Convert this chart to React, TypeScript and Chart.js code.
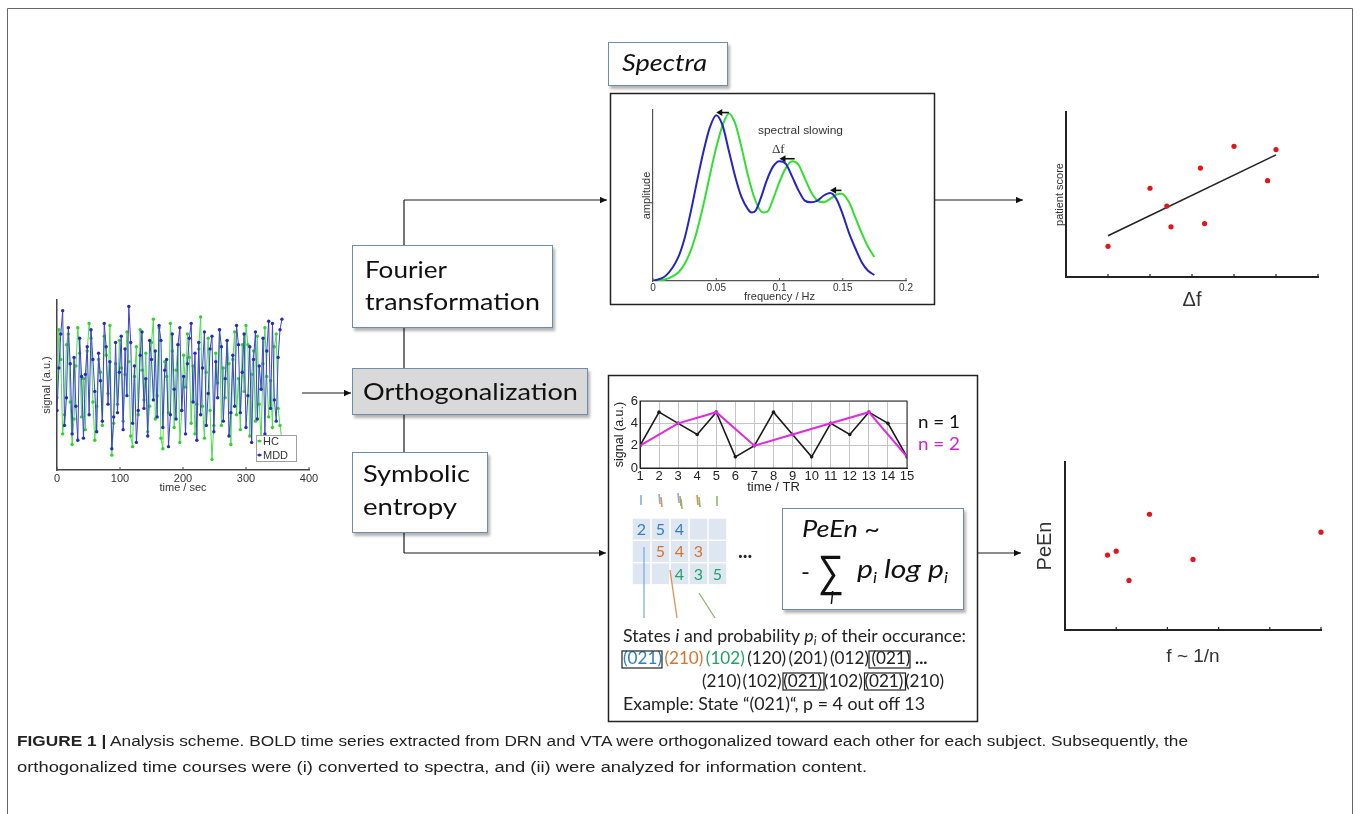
import React, { useEffect, useRef } from "react";
import { Chart, registerables } from "chart.js";

Chart.register(...registerables);

const SANS = "'Liberation Sans', Arial, Helvetica, sans-serif";
const CAL = "Lato, 'Open Sans', 'Noto Sans', sans-serif";
const NARROW = "'Liberation Sans Narrow', 'Liberation Sans', Arial, sans-serif";
const SERIF = "'Liberation Serif', 'DejaVu Serif', serif";

Chart.defaults.font.family = SANS;
Chart.defaults.color = "#333";

// ---------- time series (HC vs MDD) ----------
const sampleStepSec = 3;
const hcSignal = [
  -0.6, 2.6, 1.2, -2.3, -1.4, 1.9, 2.4, -0.8, -2.8, -1.6,
  0.9, 2.7, 1.5, -1.5, 0.3, -2.1, 1.6, 2.9, 2.2, -0.8,
  -2.6, -1.0, 1.2, 0.6, -1.9, 2.3, 1.4, -0.4, 2.8, -3.3,
  -1.8, 1.0, -0.9, 2.1, 0.8, -1.7, 0.5, 2.5, 1.1, -2.4,
  -2.9, 0.4, 1.8, -1.4, 2.6, 0.7, -0.7, 1.5, -2.2, -1.0,
  2.0, 3.1, -1.6, -0.5, 2.7, -2.5, -3.0, 1.1, 0.4, -1.3,
  2.9, 1.6, -2.0, 0.7, 1.9, -2.7, -1.2, 1.4, -0.1, 2.4,
  1.3, -1.8, 0.9, -2.3, -0.9, 1.7, 3.2, -1.0, -2.5, 0.6,
  2.2, -1.2, -3.5, -1.9, 1.5, 0.1, 2.6, -1.9, 0.8, -0.6,
  2.1, 1.0, -2.8, 1.2, 2.5, -1.4, 0.3, -2.1, 1.9, -0.3,
  2.8, 1.9, -2.4, 0.5, 1.6, -1.7, 2.3, -0.9, -2.6, 1.0,
  2.7, 0.4, -1.5, 0.2, -2.0, 1.8, 2.4, -1.1, -1.9, -2.6,
];
const mddSignal = [
  -1.2, 0.8, 2.4, 3.5, -1.9, -0.6, 2.7, 1.0, -2.3, 1.3,
  -1.0, -2.6, 2.2, 0.4, -2.5, 0.5, 1.8, -1.4, 2.6, 1.2,
  -0.3, -2.2, 1.5, 0.2, -1.7, 2.9, 1.8, -0.9, 1.1, -3.0,
  -1.5, 2.0, -1.3, 0.6, 2.3, -2.1, 1.7, -0.5, 3.7, 2.0,
  -1.8, 0.9, -2.7, -1.2, 1.4, 2.5, -1.1, 0.3, -2.4, 2.1,
  1.2, -0.7, 1.6, -1.5, 2.8, 2.1, -2.0, 0.7, 1.2, -2.9,
  -1.4, 2.4, -0.2, -1.6, 1.9, 2.7, -1.2, 0.4, -2.3, 1.0,
  2.2, 2.9, -0.8, 1.5, -2.6, 2.0, -1.4, 0.8, 2.5, -1.9,
  -0.4, 1.7, 2.3, -2.2, 1.1, -0.6, 2.6, 1.8, -1.7, 0.3,
  2.1, -2.4, -1.3, 1.4, -1.0, 2.8, 1.9, -1.3, 0.6, 2.4,
  -2.0, -0.5, 1.8, -2.7, 1.2, 2.5, -1.6, 0.9, -0.2, 2.2,
  -2.3, 1.6, 3.0, -1.1, 2.9, -0.7, -1.7, 1.3, 2.6, 3.1,
];
const timeTickValues = [0, 100, 200, 300, 400];
const timeTickLabels = ["0", "100", "200", "300", "400"];

// ---------- spectra ----------
const blueFreq = [0, 0.01, 0.02, 0.025, 0.03, 0.035, 0.04, 0.045, 0.05, 0.055, 0.06, 0.065, 0.07, 0.075, 0.078, 0.081, 0.085, 0.09, 0.095, 0.1, 0.105, 0.11, 0.115, 0.12, 0.125, 0.13, 0.135, 0.14, 0.145, 0.15, 0.155, 0.16, 0.165, 0.17, 0.175];
const blueAmp = [0, 0.03, 0.14, 0.25, 0.41, 0.59, 0.76, 0.9, 0.97, 0.91, 0.76, 0.61, 0.49, 0.42, 0.4, 0.41, 0.48, 0.59, 0.67, 0.7, 0.685, 0.61, 0.53, 0.47, 0.46, 0.47, 0.5, 0.515, 0.48, 0.39, 0.28, 0.19, 0.11, 0.06, 0.035];
const greenFreq = [0, 0.01, 0.02, 0.025, 0.03, 0.035, 0.04, 0.045, 0.05, 0.055, 0.06, 0.065, 0.07, 0.075, 0.08, 0.085, 0.088, 0.091, 0.095, 0.1, 0.105, 0.11, 0.115, 0.12, 0.125, 0.13, 0.135, 0.14, 0.145, 0.149, 0.155, 0.16, 0.165, 0.17, 0.175];
const greenAmp = [0, 0.01, 0.05, 0.1, 0.18, 0.3, 0.45, 0.62, 0.78, 0.91, 0.98, 0.92, 0.78, 0.62, 0.49, 0.41, 0.4, 0.41, 0.48, 0.58, 0.66, 0.7, 0.68, 0.6, 0.52, 0.47, 0.46, 0.48, 0.505, 0.51, 0.46, 0.37, 0.28, 0.2, 0.14];
const freqTickValues = [0, 0.05, 0.1, 0.15, 0.2];
const freqTickLabels = ["0", "0.05", "0.1", "0.15", "0.2"];
const slowingFrom = [0.06, 0.112, 0.149];
const slowingTo = [0.05, 0.1, 0.14];
const slowingAmp = [0.985, 0.715, 0.53];

// ---------- patient score vs delta f ----------
const deltaF = [1.0, 2.0, 2.4, 2.5, 3.2, 3.3, 4.0, 4.8, 5.0];
const patientScore = [1.86, 5.38, 4.3, 3.04, 6.6, 3.24, 7.92, 5.84, 7.72];
const fitDeltaF = [1.0, 5.0];
const fitScore = [2.5, 7.4];
const scoreTicks = [1, 2, 3, 4, 5, 6];

// ---------- n = 1 / n = 2 example ----------
const trTimes = [1, 2, 3, 4, 5, 6, 7, 8, 9, 10, 11, 12, 13, 14, 15];
const signalN1 = [2, 5, 4, 3, 5, 1, 2, 5, 3, 1, 4, 3, 5, 4, 1];
const trTimesN2 = [1, 3, 5, 7, 9, 11, 13, 15];
const signalN2 = [2, 4, 5, 2, 3, 4, 5, 1];

// ---------- PeEn vs f ----------
const peFreq = [0.83, 1.0, 1.25, 1.65, 2.5, 5.0];
const peEn = [4.46, 4.69, 2.95, 6.89, 4.2, 5.82];
const peTicks = [1, 2, 3, 4, 5];

// ---------- symbolic states ----------
const matrixRows: (number | null)[][] = [
  [2, 5, 4, null, null],
  [null, 5, 4, 3, null],
  [null, null, 4, 3, 5],
];
const stateLine1 = ["(021)", "(210)", "(102)", "(120)", "(201)", "(012)", "(021)"];
const stateLine2 = ["(210)", "(102)", "(021)", "(102)", "(021)", "(210)"];

// ---------- helpers ----------
const fixW = (w: number) => (s: any) => {
  s.width = w;
  s.paddingTop = 0; s.paddingBottom = 0; s.paddingLeft = 0; s.paddingRight = 0;
};
const fixH = (h: number) => (s: any) => {
  s.height = h;
  s.paddingTop = 0; s.paddingBottom = 0; s.paddingLeft = 0; s.paddingRight = 0;
};
const setTicks = (vals: number[]) => (s: any) => {
  s.ticks = vals.map((v) => ({ value: v }));
};

function base(pad: any) {
  return {
    responsive: false,
    maintainAspectRatio: false,
    animation: false,
    devicePixelRatio: 1,
    events: [],
    layout: { padding: pad },
    plugins: { legend: { display: false }, tooltip: { enabled: false }, title: { display: false } },
  };
}

const innerTicks = (vals: number[], len: number, color: string, width: number) => ({
  id: "innerTicks",
  afterDraw(chart: any) {
    const { ctx, chartArea, scales } = chart;
    ctx.save();
    ctx.strokeStyle = color;
    ctx.lineWidth = width;
    vals.forEach((v) => {
      const x = scales.x.getPixelForValue(v);
      ctx.beginPath();
      ctx.moveTo(x, chartArea.bottom);
      ctx.lineTo(x, chartArea.bottom - len);
      ctx.stroke();
    });
    ctx.restore();
  },
});

const frame = (color: string, width: number) => ({
  id: "frame",
  afterDraw(chart: any) {
    const { ctx, chartArea: a } = chart;
    ctx.save();
    ctx.strokeStyle = color;
    ctx.lineWidth = width;
    ctx.strokeRect(a.left, a.top, a.right - a.left, a.bottom - a.top);
    ctx.restore();
  },
});

const slowingArrows = {
  id: "slowingArrows",
  afterDatasetsDraw(chart: any) {
    const { ctx, scales } = chart;
    ctx.save();
    ctx.strokeStyle = "#111";
    ctx.fillStyle = "#111";
    ctx.lineWidth = 1.6;
    slowingFrom.forEach((f, i) => {
      const x0 = scales.x.getPixelForValue(f);
      const x1 = scales.x.getPixelForValue(slowingTo[i]);
      const yy = scales.y.getPixelForValue(slowingAmp[i]);
      ctx.beginPath();
      ctx.moveTo(x0, yy);
      ctx.lineTo(x1 + 4, yy);
      ctx.stroke();
      ctx.beginPath();
      ctx.moveTo(x1, yy);
      ctx.lineTo(x1 + 6, yy - 3.5);
      ctx.lineTo(x1 + 6, yy + 3.5);
      ctx.closePath();
      ctx.fill();
    });
    ctx.restore();
  },
};

function ChartCanvas({ left, top, width, height, make }: { left: number; top: number; width: number; height: number; make: () => any }) {
  const ref = useRef<HTMLCanvasElement | null>(null);
  useEffect(() => {
    if (!ref.current) return;
    const chart = new Chart(ref.current, make());
    return () => chart.destroy();
  }, []);
  return (
    <canvas
      ref={ref}
      width={width}
      height={height}
      style={{ position: "absolute", left, top, width, height }}
    />
  );
}

// ---------- chart configs ----------
const timeSeriesConfig = () => ({
  type: "scatter",
  data: {
    datasets: [
      {
        label: "MDD",
        data: mddSignal.map((y, i) => ({ x: i * sampleStepSec, y })),
        showLine: true,
        borderColor: "#4040d4",
        backgroundColor: "#2a2ab8",
        borderWidth: 1,
        pointRadius: 1.7,
        pointBorderWidth: 0,
        order: 0,
      },
      {
        label: "HC",
        data: hcSignal.map((y, i) => ({ x: i * sampleStepSec, y })),
        showLine: true,
        borderColor: "#48e048",
        backgroundColor: "#30d030",
        borderWidth: 1,
        pointRadius: 1.7,
        pointBorderWidth: 0,
        order: 1,
      },
    ],
  },
  options: {
    ...base({ left: 0, right: 11, top: 8, bottom: 0 }),
    scales: {
      x: {
        type: "linear", min: 0, max: 400,
        afterFit: fixH(32), afterBuildTicks: setTicks(timeTickValues),
        ticks: { callback: (_v: any, i: number) => timeTickLabels[i], font: { size: 11 }, color: "#333", padding: 2, maxRotation: 0, autoSkip: false },
        grid: { display: false, drawTicks: false },
        border: { display: true, color: "#444", width: 1.5 },
        title: { display: true, text: "time / sec", font: { size: 11 }, color: "#333", padding: { top: 0, bottom: 7.7 } },
      },
      y: {
        min: -4, max: 4,
        afterFit: fixW(37),
        ticks: { display: false },
        grid: { display: false, drawTicks: false },
        border: { display: true, color: "#444", width: 1.5 },
        title: { display: true, text: "signal (a.u.)", font: { size: 11 }, color: "#333", padding: { top: 20, bottom: 0 } },
      },
    },
  },
  plugins: [innerTicks(timeTickValues, 3, "#444", 1)],
});

const spectraConfig = () => ({
  type: "scatter",
  data: {
    datasets: [
      {
        label: "MDD",
        data: blueAmp.map((y, i) => ({ x: blueFreq[i], y })),
        showLine: true, borderColor: "#2424c4", borderWidth: 2, pointRadius: 0,
        cubicInterpolationMode: "monotone",
      },
      {
        label: "HC",
        data: greenAmp.map((y, i) => ({ x: greenFreq[i], y })),
        showLine: true, borderColor: "#2fe02f", borderWidth: 2, pointRadius: 0,
        cubicInterpolationMode: "monotone",
      },
    ],
  },
  options: {
    ...base({ left: 0, right: 26, top: 14, bottom: 0 }),
    scales: {
      x: {
        type: "linear", min: 0, max: 0.2,
        afterFit: fixH(24), afterBuildTicks: setTicks(freqTickValues),
        ticks: { callback: (_v: any, i: number) => freqTickLabels[i], font: { size: 10 }, color: "#333", padding: 1, maxRotation: 0, autoSkip: false },
        grid: { display: false, drawTicks: false },
        border: { display: true, color: "#555", width: 1.2 },
        title: { display: true, text: "frequency / Hz", font: { size: 11 }, color: "#333", padding: { top: 0, bottom: 1.7 } },
      },
      y: {
        min: 0, max: 1,
        afterFit: fixW(41),
        ticks: { display: false },
        grid: { display: false, drawTicks: false },
        border: { display: true, color: "#555", width: 1.2 },
        title: { display: true, text: "amplitude", font: { size: 11 }, color: "#333", padding: { top: 28, bottom: 0 } },
      },
    },
  },
  plugins: [innerTicks(freqTickValues, 3, "#555", 1), slowingArrows],
});

const scoreConfig = () => ({
  type: "scatter",
  data: {
    datasets: [
      {
        label: "points",
        data: patientScore.map((y, i) => ({ x: deltaF[i], y })),
        pointRadius: 2.6, backgroundColor: "#e3141c", borderWidth: 0, clip: false,
      },
      {
        label: "fit",
        data: fitScore.map((y, i) => ({ x: fitDeltaF[i], y })),
        showLine: true, borderColor: "#222", borderWidth: 1.6, pointRadius: 0,
      },
    ],
  },
  options: {
    ...base({ left: 0, right: 22, top: 8, bottom: 0 }),
    scales: {
      x: {
        type: "linear", min: 0, max: 6,
        afterFit: fixH(39),
        ticks: { display: false },
        grid: { display: false, drawTicks: false },
        border: { display: true, color: "#222", width: 2 },
        title: { display: true, text: "Δf", font: { size: 20 }, color: "#333", padding: { top: 0, bottom: 4 } },
      },
      y: {
        min: 0, max: 10,
        afterFit: fixW(26),
        ticks: { display: false },
        grid: { display: false, drawTicks: false },
        border: { display: true, color: "#222", width: 2 },
        title: { display: true, text: "patient score", font: { size: 11 }, color: "#333", padding: { top: 13.4, bottom: 0 } },
      },
    },
  },
  plugins: [innerTicks(scoreTicks, 3, "#222", 1.2)],
});

const peConfig = () => ({
  type: "scatter",
  data: {
    datasets: [
      {
        label: "PeEn",
        data: peEn.map((y, i) => ({ x: peFreq[i], y })),
        pointRadius: 2.6, backgroundColor: "#e3141c", borderWidth: 0, clip: false,
      },
    ],
  },
  options: {
    ...base({ left: 0, right: 19, top: 10, bottom: 0 }),
    scales: {
      x: {
        type: "linear", min: 0, max: 5,
        afterFit: fixH(42),
        ticks: { display: false },
        grid: { display: false, drawTicks: false },
        border: { display: true, color: "#222", width: 2 },
        title: { display: true, text: "f ~ 1/n", font: { size: 19 }, color: "#333", padding: { top: 0, bottom: 3.9 } },
      },
      y: {
        min: 0, max: 10,
        afterFit: fixW(37),
        ticks: { display: false },
        grid: { display: false, drawTicks: false },
        border: { display: true, color: "#222", width: 2 },
        title: { display: true, text: "PeEn", font: { size: 20 }, color: "#333", padding: { top: 5, bottom: 0 } },
      },
    },
  },
  plugins: [innerTicks(peTicks, 3, "#222", 1.2)],
});

const nConfig = () => ({
  type: "scatter",
  data: {
    datasets: [
      {
        label: "n = 2",
        data: signalN2.map((y, i) => ({ x: trTimesN2[i], y })),
        showLine: true, borderColor: "#e02ae0", backgroundColor: "#e02ae0", borderWidth: 2,
        pointRadius: 1.8, pointBorderWidth: 0, order: 0,
      },
      {
        label: "n = 1",
        data: signalN1.map((y, i) => ({ x: trTimes[i], y })),
        showLine: true, borderColor: "#1a1a1a", backgroundColor: "#1a1a1a", borderWidth: 1.6,
        pointRadius: 1.8, pointBorderWidth: 0, order: 1,
      },
    ],
  },
  options: {
    ...base({ left: 0, right: 8, top: 16, bottom: 0 }),
    scales: {
      x: {
        type: "linear", min: 1, max: 15,
        afterFit: fixH(27),
        ticks: { stepSize: 1, font: { size: 13 }, color: "#222", padding: 1, maxRotation: 0, autoSkip: false },
        grid: { display: true, color: "#c4c4c4", lineWidth: 1, drawTicks: false },
        border: { display: true, color: "#222", width: 1 },
        title: { display: true, text: "time / TR", font: { size: 13 }, color: "#222", padding: { top: 0, bottom: 0 } },
      },
      y: {
        min: 0, max: 6,
        afterFit: fixW(35),
        ticks: { stepSize: 1, font: { size: 13 }, color: "#222", padding: 2 },
        grid: { display: true, color: "#c4c4c4", lineWidth: 1, drawTicks: false },
        border: { display: true, color: "#222", width: 1 },
        title: { display: true, text: "signal (a.u.)", font: { size: 12.5 }, color: "#222", padding: { top: 7.5, bottom: 0 } },
      },
    },
  },
  plugins: [frame("#222", 1)],
});

// ---------- diagram overlay ----------
const matrixColors = ["#2f7fc4", "#d8732c", "#1ea463"];
const lineColors = ["#7eaee0", "#e58f4c", "#8fb56a"];

function Diagram() {
  const boxStroke = "#6f8cab";
  const cellW = 19;
  const cellH = 22.3;
  const mx = 632;
  const my = 518;
  return (
    <svg width={1360} height={814} style={{ position: "absolute", left: 0, top: 0 }}>
      <defs>
        <marker id="arr" viewBox="0 0 10 10" refX="10" refY="5" markerWidth="8" markerHeight="7" orient="auto" markerUnits="userSpaceOnUse">
          <path d="M0,0.5 L10,5 L0,9.5 z" fill="#111" />
        </marker>
        <filter id="sh" x="-10%" y="-10%" width="130%" height="150%">
          <feDropShadow dx="2" dy="3" stdDeviation="1.5" floodColor="#000" floodOpacity="0.3" />
        </filter>
      </defs>

      {/* outer frame */}
      <path d="M7.5,814 L7.5,8.5 L1352.5,8.5 L1352.5,814" fill="none" stroke="#666" strokeWidth={1} />

      {/* connectors */}
      <g stroke="#1a1a1a" strokeWidth={1.2} fill="none">
        <line x1={404} y1={200} x2={404} y2={553} />
        <line x1={404} y1={200} x2={607} y2={200} markerEnd="url(#arr)" />
        <line x1={404} y1={553} x2={606} y2={553} markerEnd="url(#arr)" />
        <line x1={302} y1={393} x2={351} y2={393} markerEnd="url(#arr)" />
        <line x1={935} y1={200} x2={1023} y2={200} markerEnd="url(#arr)" />
        <line x1={978} y1={553} x2={1021} y2={553} markerEnd="url(#arr)" />
      </g>

      {/* process boxes */}
      <rect x={608.5} y={42.5} width={119} height={43} fill="#fff" stroke={boxStroke} strokeWidth={1} filter="url(#sh)" />
      <rect x={352.5} y={245.5} width={200} height={82} fill="#fff" stroke={boxStroke} strokeWidth={1} filter="url(#sh)" />
      <rect x={352.5} y={368.5} width={235} height={46} fill="#d9d9d9" stroke={boxStroke} strokeWidth={1} filter="url(#sh)" />
      <rect x={352.5} y={452.5} width={135} height={80} fill="#fff" stroke={boxStroke} strokeWidth={1} filter="url(#sh)" />

      <g fontFamily={CAL} fill="#111">
        <text x={622} y={71} fontSize={24} fontStyle="italic" textLength={85} lengthAdjust="spacingAndGlyphs">Spectra</text>
        <text x={365} y={278} fontSize={24} textLength={82} lengthAdjust="spacingAndGlyphs">Fourier</text>
        <text x={365} y={310} fontSize={24} textLength={175} lengthAdjust="spacingAndGlyphs">transformation</text>
        <text x={363} y={400} fontSize={24} textLength={215} lengthAdjust="spacingAndGlyphs">Orthogonalization</text>
        <text x={363} y={482} fontSize={24} textLength={107} lengthAdjust="spacingAndGlyphs">Symbolic</text>
        <text x={363} y={515} fontSize={24} textLength={94} lengthAdjust="spacingAndGlyphs">entropy</text>
      </g>

      {/* panel frames */}
      <rect x={610.5} y={93.5} width={324} height={211} fill="none" stroke="#222" strokeWidth={1.5} />
      <rect x={608.5} y={375.5} width={369} height={346} fill="none" stroke="#222" strokeWidth={1.5} />

      {/* spectra annotation */}
      <text x={758} y={134} fontFamily={SANS} fontSize={11} fill="#333" textLength={85} lengthAdjust="spacingAndGlyphs">spectral slowing</text>
      <text x={772} y={153} fontFamily={SERIF} fontSize={13} fill="#333">Δf</text>

      {/* time series legend */}
      <rect x={256.5} y={435.5} width={40} height={26} fill="#fff" stroke="#a0a0a0" strokeWidth={1} />
      <line x1={257} y1={441} x2={262} y2={441} stroke="#48e048" strokeWidth={1} />
      <circle cx={259.5} cy={441} r={1.6} fill="#30d030" />
      <line x1={257} y1={455} x2={262} y2={455} stroke="#4040d4" strokeWidth={1} />
      <circle cx={259.5} cy={455} r={1.6} fill="#2a2ab8" />
      <text x={263} y={445} fontFamily={SANS} fontSize={11} fill="#333">HC</text>
      <text x={263} y={459} fontFamily={SANS} fontSize={11} fill="#333">MDD</text>

      {/* n labels */}
      <text x={918} y={428} fontFamily={CAL} fontSize={18} fill="#111" textLength={42} lengthAdjust="spacingAndGlyphs">n = 1</text>
      <text x={918} y={450} fontFamily={CAL} fontSize={18} fill="#d020d0" textLength={42} lengthAdjust="spacingAndGlyphs">n = 2</text>

      {/* matrix */}
      {matrixRows.map((row, r) =>
        row.map((_v, c) => (
          <rect key={`c${r}${c}`} x={mx + c * cellW + 0.75} y={my + r * cellH + 0.75} width={cellW - 1.5} height={cellH - 1.5} fill="#dde6f1" />
        ))
      )}
      {matrixRows.map((row, r) =>
        row.map((v, c) =>
          v === null ? null : (
            <text key={`t${r}${c}`} x={mx + c * cellW + cellW / 2} y={my + r * cellH + 17} textAnchor="middle" fontFamily={CAL} fontSize={16} fill={matrixColors[r]}>{v}</text>
          )
        )
      )}
      <text x={738} y={558} fontFamily={CAL} fontSize={20} fontWeight="bold" fill="#222">...</text>

      {/* small marks above matrix */}
      <g strokeWidth={1.6}>
        <line x1={641} y1={495} x2={641} y2={505} stroke={lineColors[0]} />
        <line x1={659} y1={494} x2={660} y2={504} stroke={lineColors[0]} />
        <line x1={661} y1={497} x2={662} y2={507} stroke={lineColors[1]} />
        <line x1={678} y1={493} x2={679} y2={503} stroke={lineColors[0]} />
        <line x1={680} y1={496} x2={681} y2={506} stroke={lineColors[1]} />
        <line x1={681} y1={499} x2={682} y2={509} stroke={lineColors[2]} />
        <line x1={697} y1={495} x2={698} y2={505} stroke={lineColors[1]} />
        <line x1={699} y1={497} x2={700} y2={507} stroke={lineColors[2]} />
        <line x1={717} y1={496} x2={717} y2={506} stroke={lineColors[2]} />
      </g>
      {/* lines from matrix to states */}
      <g strokeWidth={1.3}>
        <line x1={644} y1={547} x2={644} y2={618} stroke={lineColors[0]} />
        <line x1={670} y1={570} x2={677} y2={618} stroke={lineColors[1]} />
        <line x1={699} y1={593} x2={715} y2={618} stroke={lineColors[2]} />
      </g>

      {/* formula box */}
      <rect x={782.5} y={508.5} width={181} height={101} fill="#fff" stroke={boxStroke} strokeWidth={1} filter="url(#sh)" />
      <g fontFamily={CAL} fill="#111">
        <text x={802} y={537} fontSize={24} fontStyle="italic" textLength={78} lengthAdjust="spacingAndGlyphs">PeEn ~</text>
        <text x={801} y={580} fontSize={24}>-</text>
        <text x={818} y={586} fontSize={44} fontFamily={SANS} textLength={26} lengthAdjust="spacingAndGlyphs">∑</text>
        <text x={830} y={604} fontSize={17} fontStyle="italic">i</text>
        <text x={857} y={578} fontSize={26} fontStyle="italic" textLength={91} lengthAdjust="spacingAndGlyphs">
          p<tspan dy={5} fontSize={15}>i</tspan>
          <tspan dy={-5}> log p</tspan>
          <tspan dy={5} fontSize={15}>i</tspan>
        </text>
      </g>

      {/* states text */}
      <g fontFamily={CAL} fill="#222" fontSize={17.5}>
        <text x={623} y={642} textLength={343} lengthAdjust="spacingAndGlyphs">
          States <tspan fontStyle="italic">i</tspan> and probability <tspan fontStyle="italic">p</tspan>
          <tspan fontStyle="italic" fontSize={12} dy={3}>i</tspan>
          <tspan dy={-3}> of their occurance:</tspan>
        </text>
        {stateLine1.map((s, k) => (
          <text key={`s1${k}`} x={623 + k * 41.4} y={664} textLength={39} lengthAdjust="spacingAndGlyphs" fill={k < 3 ? matrixColors[k] : "#222"}>{s}</text>
        ))}
        <text x={915} y={664} fontWeight="bold">...</text>
        {stateLine2.map((s, k) => (
          <text key={`s2${k}`} x={702 + k * 40.6} y={687} textLength={39} lengthAdjust="spacingAndGlyphs">{s}</text>
        ))}
        <text x={623} y={710} textLength={302} lengthAdjust="spacingAndGlyphs">Example: State “(021)“, p = 4 out off 13</text>
      </g>
      <g fill="none" stroke="#222" strokeWidth={1.2}>
        <rect x={622} y={651} width={40} height={17} />
        <rect x={869} y={651} width={41} height={17} />
        <rect x={783} y={673} width={41} height={17} />
        <rect x={864.5} y={673} width={41} height={17} />
      </g>

      {/* caption */}
      <g fontFamily={NARROW} fontSize={15.5} fill="#222">
        <text x={17} y={746} textLength={1171} lengthAdjust="spacingAndGlyphs">
          <tspan fontWeight="bold">FIGURE 1 |</tspan>
          {" Analysis scheme. BOLD time series extracted from DRN and VTA were orthogonalized toward each other for each subject. Subsequently, the"}
        </text>
        <text x={17} y={772} textLength={850} lengthAdjust="spacingAndGlyphs">
          orthogonalized time courses were (i) converted to spectra, and (ii) were analyzed for information content.
        </text>
      </g>
    </svg>
  );
}

export default function App() {
  return (
    <div style={{ position: "absolute", left: 0, top: 0, width: 1360, height: 814, background: "#fff", overflow: "hidden" }}>
      <ChartCanvas left={20} top={292} width={300} height={210} make={timeSeriesConfig} />
      <ChartCanvas left={612} top={96} width={320} height={209} make={spectraConfig} />
      <ChartCanvas left={1040} top={104} width={300} height={212} make={scoreConfig} />
      <ChartCanvas left={1028} top={452} width={312} height={220} make={peConfig} />
      <ChartCanvas left={605} top={385} width={310} height={110} make={nConfig} />
      <Diagram />
    </div>
  );
}
